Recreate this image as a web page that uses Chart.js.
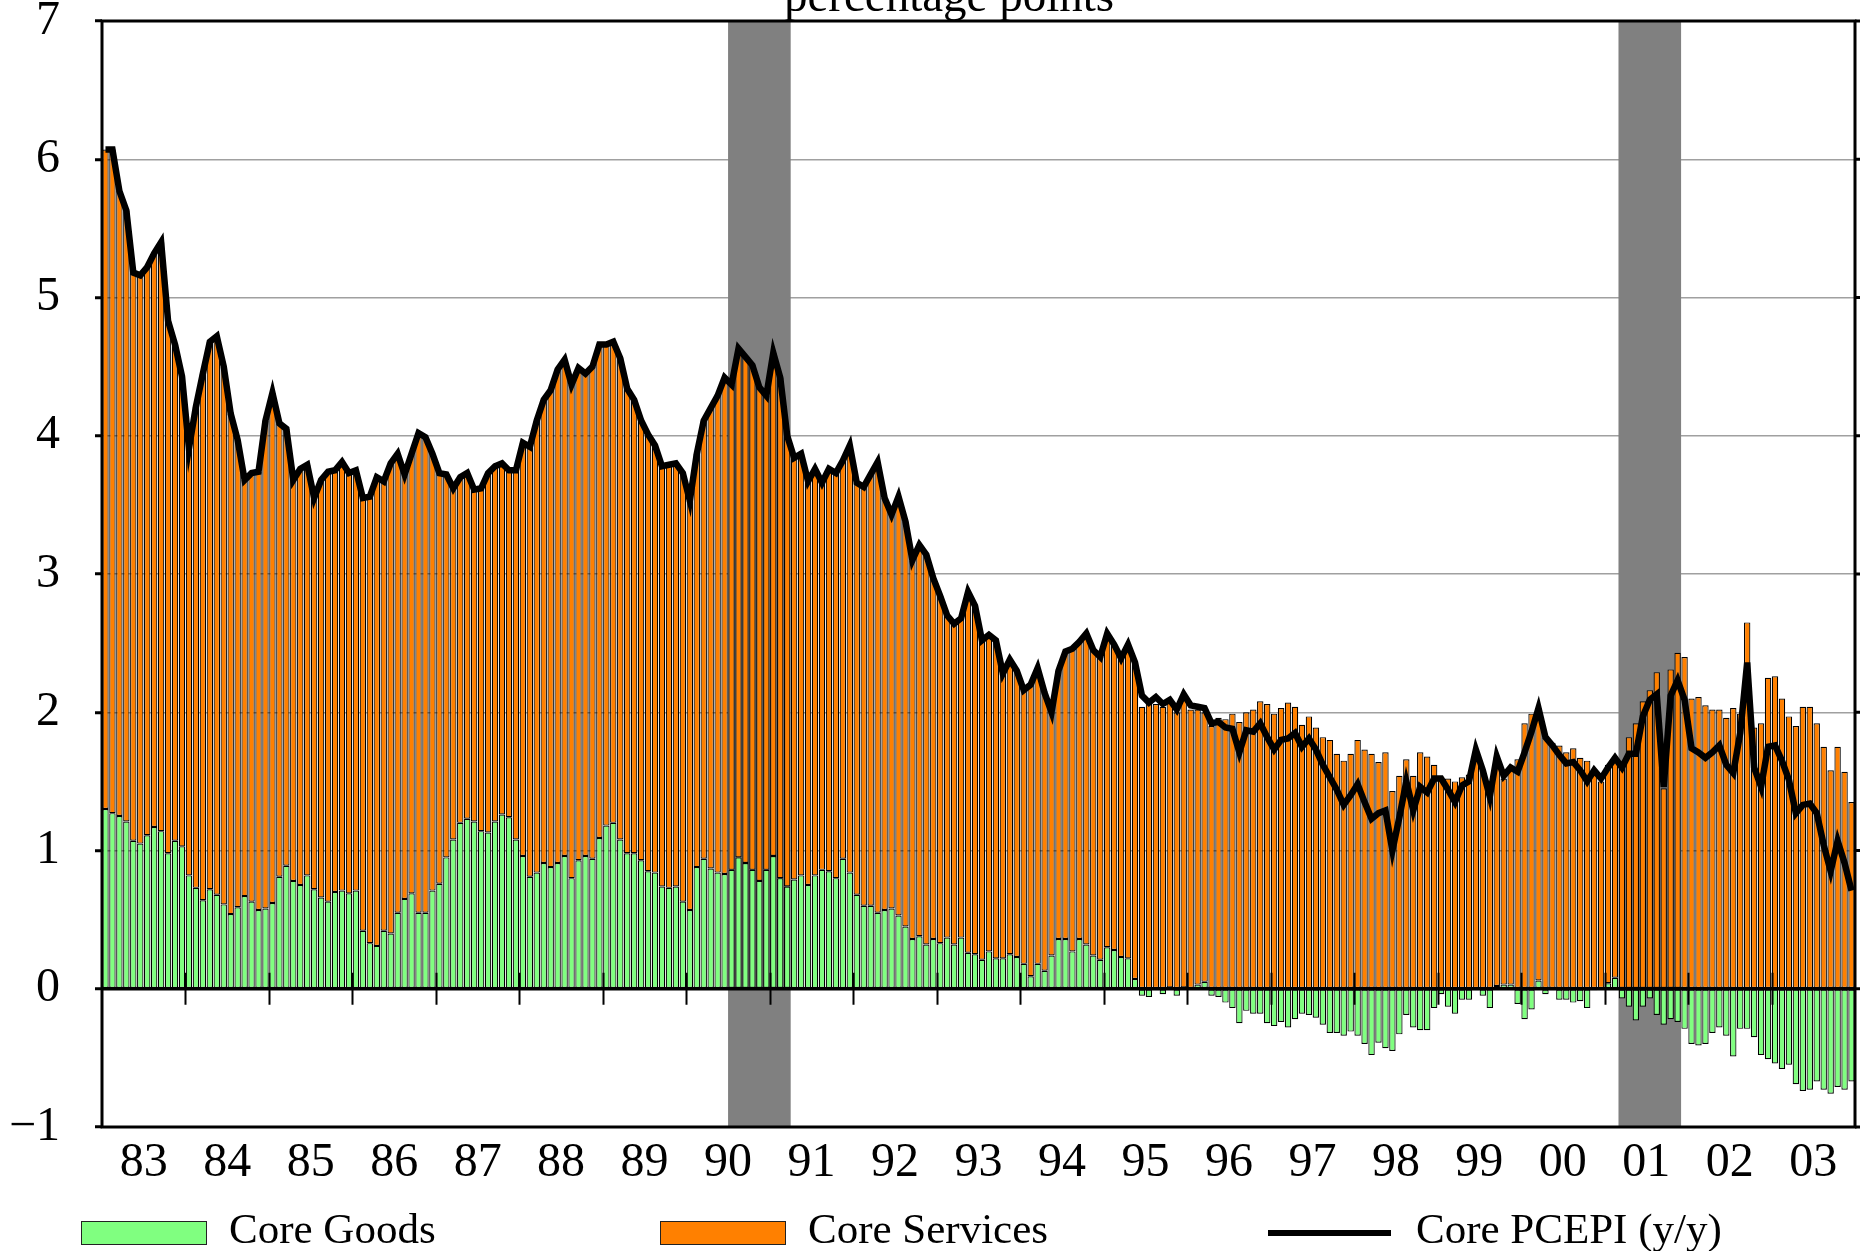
<!DOCTYPE html>
<html>
<head>
<meta charset="utf-8">
<script src="https://cdn.jsdelivr.net/npm/chart.js@4.4.1/dist/chart.umd.min.js"></script>
<style>
  html, body { margin: 0; padding: 0; background: #fff; }
  #wrap { position: relative; width: 1872px; height: 1251px; overflow: hidden;
          font-family: "Liberation Serif", "Times New Roman", serif; color: #000; }
  #chart { position: absolute; left: 0; top: 0; }
  .title { position: absolute; top: -28px; left: 0; width: 1898px; text-align: center;
           font-size: 47px; line-height: 1; white-space: nowrap; }
  .swatch { position: absolute; box-sizing: border-box; }
  .swatch.box { top: 1221px; width: 126px; height: 24px; border: 1.5px solid #222; }
  .swatch.line { top: 1230px; width: 123px; height: 6px; }
  .label { position: absolute; top: 1207px; font-size: 43px; line-height: 1; white-space: nowrap; }
</style>
</head>
<body>
<div id="wrap">
  <canvas id="chart" width="1872" height="1251"></canvas>
  <div class="title">percentage points</div>
  <div id="legend"></div>
</div>
<script>
// monthly, Jan 1983 .. Dec 2003
const firstYear = 1983;
const lastYear = 2003;
const yearLabels = ["83", "84", "85", "86", "87", "88", "89", "90", "91", "92", "93",
  "94", "95", "96", "97", "98", "99", "00", "01", "02", "03"];

const recessionStart = ["1990-07", "2001-03"];
const recessionEnd = ["1991-03", "2001-11"];

// contribution of core goods, percentage points
const coreGoods = [
  1.30, 1.27, 1.25, 1.21, 1.07, 1.05, 1.11, 1.17, 1.14, 0.98, 1.07, 1.03,
  0.82, 0.73, 0.64, 0.72, 0.68, 0.61, 0.54, 0.59, 0.67, 0.63, 0.57, 0.58,
  0.62, 0.81, 0.89, 0.78, 0.75, 0.82, 0.72, 0.66, 0.63, 0.70, 0.71, 0.69,
  0.71, 0.42, 0.33, 0.31, 0.42, 0.40, 0.55, 0.65, 0.69, 0.55, 0.55, 0.71,
  0.76, 0.95, 1.08, 1.20, 1.23, 1.21, 1.14, 1.13, 1.21, 1.26, 1.24, 1.08,
  0.96, 0.81, 0.84, 0.91, 0.88, 0.91, 0.96, 0.80, 0.93, 0.96, 0.94, 1.09,
  1.18, 1.20, 1.08, 0.98, 0.98, 0.93, 0.85, 0.84, 0.74, 0.73, 0.74, 0.63,
  0.57, 0.88, 0.94, 0.87, 0.84, 0.83, 0.86, 0.95, 0.91, 0.86, 0.78, 0.86,
  0.96, 0.80, 0.74, 0.79, 0.82, 0.75, 0.82, 0.86, 0.85, 0.80, 0.94, 0.84,
  0.68, 0.60, 0.60, 0.55, 0.57, 0.58, 0.53, 0.45, 0.36, 0.38, 0.32, 0.36,
  0.33, 0.37, 0.32, 0.37, 0.26, 0.25, 0.21, 0.27, 0.22, 0.22, 0.25, 0.23,
  0.18, 0.09, 0.18, 0.13, 0.24, 0.36, 0.36, 0.27, 0.36, 0.32, 0.24, 0.21,
  0.30, 0.28, 0.23, 0.22, 0.07, -0.05, -0.06, -0.01, -0.04, 0.01, -0.05, 0.01,
  0.00, 0.03, 0.05, -0.05, -0.06, -0.10, -0.14, -0.25, -0.16, -0.18, -0.18, -0.25,
  -0.27, -0.24, -0.28, -0.22, -0.18, -0.19, -0.21, -0.26, -0.32, -0.32, -0.34, -0.31,
  -0.34, -0.40, -0.48, -0.39, -0.43, -0.45, -0.33, -0.19, -0.28, -0.30, -0.30, -0.14,
  -0.04, -0.13, -0.18, -0.08, -0.08, -0.01, -0.05, -0.14, 0.02, 0.03, 0.03, -0.11,
  -0.22, -0.15, 0.06, -0.04, -0.01, -0.08, -0.08, -0.10, -0.09, -0.14, -0.01, 0.00,
  0.04, 0.08, -0.07, -0.13, -0.23, -0.13, -0.07, -0.19, -0.26, -0.22, -0.24, -0.29,
  -0.40, -0.41, -0.40, -0.32, -0.28, -0.34, -0.49, -0.29, -0.29, -0.35, -0.48, -0.51,
  -0.54, -0.58, -0.55, -0.69, -0.74, -0.73, -0.67, -0.73, -0.76, -0.71, -0.73, -0.67,
];

// contribution of core services, percentage points
const coreServices = [
  4.77, 4.80, 4.52, 4.42, 4.11, 4.11, 4.11, 4.15, 4.26, 3.85, 3.59, 3.40,
  3.09, 3.48, 3.81, 3.96, 4.04, 3.89, 3.62, 3.38, 3.01, 3.10, 3.17, 3.53,
  3.69, 3.28, 3.16, 2.90, 3.01, 2.97, 2.83, 3.02, 3.11, 3.05, 3.10, 3.04,
  3.04, 3.13, 3.23, 3.39, 3.25, 3.40, 3.32, 3.07, 3.18, 3.47, 3.44, 3.16,
  2.97, 2.77, 2.54, 2.50, 2.50, 2.40, 2.48, 2.60, 2.57, 2.54, 2.51, 2.67,
  2.99, 3.11, 3.27, 3.35, 3.45, 3.57, 3.59, 3.57, 3.56, 3.49, 3.56, 3.57,
  3.48, 3.48, 3.48, 3.36, 3.28, 3.18, 3.16, 3.09, 3.04, 3.06, 3.06, 3.10,
  2.96, 2.99, 3.17, 3.33, 3.45, 3.59, 3.51, 3.68, 3.66, 3.65, 3.57, 3.43,
  3.64, 3.62, 3.26, 3.05, 3.05, 2.92, 2.94, 2.80, 2.91, 2.93, 2.88, 3.09,
  2.98, 3.03, 3.12, 3.26, 2.98, 2.85, 3.03, 2.93, 2.74, 2.83, 2.82, 2.61,
  2.51, 2.33, 2.32, 2.31, 2.61, 2.52, 2.31, 2.29, 2.30, 2.06, 2.13, 2.07,
  1.98, 2.11, 2.14, 2.01, 1.76, 1.94, 2.08, 2.19, 2.15, 2.25, 2.21, 2.19,
  2.27, 2.21, 2.16, 2.27, 2.29, 2.04, 2.07, 2.06, 2.04, 2.06, 2.00, 2.11,
  2.02, 1.99, 1.95, 1.90, 1.96, 1.95, 1.99, 1.93, 2.00, 2.02, 2.08, 2.06,
  1.99, 2.03, 2.07, 2.04, 1.91, 1.97, 1.89, 1.82, 1.80, 1.70, 1.65, 1.70,
  1.80, 1.73, 1.70, 1.64, 1.71, 1.43, 1.54, 1.66, 1.54, 1.71, 1.68, 1.62,
  1.53, 1.52, 1.50, 1.53, 1.55, 1.72, 1.58, 1.50, 1.66, 1.49, 1.56, 1.66,
  1.92, 1.99, 1.97, 1.82, 1.78, 1.76, 1.71, 1.74, 1.67, 1.65, 1.59, 1.50,
  1.58, 1.60, 1.59, 1.82, 1.92, 2.08, 2.16, 2.29, 1.45, 2.31, 2.43, 2.40,
  2.10, 2.11, 2.05, 2.02, 2.02, 1.96, 2.03, 1.99, 2.65, 1.89, 1.92, 2.25,
  2.26, 2.10, 1.97, 1.90, 2.04, 2.04, 1.92, 1.75, 1.58, 1.75, 1.57, 1.35,
];

// core PCE price index, % y/y
const corePce = [
  6.07, 6.07, 5.77, 5.63, 5.18, 5.16, 5.22, 5.32, 5.40, 4.83, 4.66, 4.43,
  3.91, 4.21, 4.45, 4.68, 4.72, 4.50, 4.16, 3.97, 3.68, 3.73, 3.74, 4.11,
  4.31, 4.09, 4.05, 3.68, 3.76, 3.79, 3.55, 3.68, 3.74, 3.75, 3.81, 3.73,
  3.75, 3.55, 3.56, 3.70, 3.67, 3.80, 3.87, 3.72, 3.87, 4.02, 3.99, 3.87,
  3.73, 3.72, 3.62, 3.70, 3.73, 3.61, 3.62, 3.73, 3.78, 3.80, 3.75, 3.75,
  3.95, 3.92, 4.11, 4.26, 4.33, 4.48, 4.55, 4.37, 4.49, 4.45, 4.50, 4.66,
  4.66, 4.68, 4.56, 4.34, 4.26, 4.11, 4.01, 3.93, 3.78, 3.79, 3.80, 3.73,
  3.53, 3.87, 4.11, 4.20, 4.29, 4.42, 4.37, 4.63, 4.57, 4.51, 4.35, 4.29,
  4.60, 4.42, 4.00, 3.84, 3.87, 3.67, 3.76, 3.66, 3.76, 3.73, 3.82, 3.93,
  3.66, 3.63, 3.72, 3.81, 3.55, 3.43, 3.56, 3.38, 3.10, 3.21, 3.14, 2.97,
  2.84, 2.70, 2.64, 2.68, 2.87, 2.77, 2.52, 2.56, 2.52, 2.28, 2.38, 2.30,
  2.16, 2.20, 2.32, 2.14, 2.00, 2.30, 2.44, 2.46, 2.51, 2.57, 2.45, 2.40,
  2.57, 2.49, 2.39, 2.49, 2.36, 2.12, 2.07, 2.11, 2.06, 2.09, 2.02, 2.13,
  2.05, 2.04, 2.03, 1.92, 1.93, 1.89, 1.88, 1.71, 1.87, 1.86, 1.92, 1.82,
  1.73, 1.80, 1.81, 1.85, 1.75, 1.81, 1.73, 1.62, 1.53, 1.44, 1.33, 1.40,
  1.48, 1.35, 1.23, 1.27, 1.29, 1.00, 1.24, 1.50, 1.29, 1.46, 1.42, 1.52,
  1.52, 1.44, 1.35, 1.47, 1.50, 1.73, 1.58, 1.39, 1.68, 1.54, 1.60, 1.57,
  1.71, 1.86, 2.03, 1.82, 1.76, 1.69, 1.63, 1.64, 1.58, 1.50, 1.58, 1.52,
  1.60, 1.67, 1.60, 1.70, 1.70, 1.97, 2.09, 2.13, 1.46, 2.12, 2.23, 2.09,
  1.74, 1.71, 1.67, 1.71, 1.76, 1.62, 1.56, 1.85, 2.36, 1.60, 1.46, 1.75,
  1.76, 1.65, 1.51, 1.27, 1.33, 1.34, 1.27, 1.04, 0.85, 1.07, 0.91, 0.71,
];

const months = [];
for (let yr = firstYear; yr <= lastYear; yr++) {
  for (let m = 1; m <= 12; m++) months.push(yr + "-" + String(m).padStart(2, "0"));
}

const FONT = "'Liberation Serif', 'Times New Roman', serif";

// recession shading, zero line, year ticks and the frame
const framePlugin = {
  id: "frame",
  beforeDatasetsDraw(chart) {
    const { ctx, chartArea: a } = chart;
    const xs = chart.scales.xYears;
    ctx.save();
    ctx.fillStyle = "#808080";
    recessionStart.forEach((s, n) => {
      const x0 = xs.getPixelForValue(months.indexOf(s));
      const x1 = xs.getPixelForValue(months.indexOf(recessionEnd[n]) + 1);
      ctx.fillRect(x0, a.top, x1 - x0, a.bottom - a.top);
    });
    ctx.restore();
  },
  afterDatasetsDraw(chart) {
    const { ctx, chartArea: a } = chart;
    const xs = chart.scales.xYears;
    const y0 = chart.scales.y.getPixelForValue(0);
    ctx.save();
    ctx.strokeStyle = "#000";
    ctx.lineWidth = 3.5;
    ctx.beginPath();
    ctx.moveTo(a.left, y0);
    ctx.lineTo(a.right, y0);
    ctx.stroke();
    ctx.lineWidth = 2;
    ctx.beginPath();
    for (let j = 1; j < yearLabels.length; j++) {
      const px = Math.round(xs.getPixelForValue(12 * j)) + 0.5;
      ctx.moveTo(px, y0 - 16);
      ctx.lineTo(px, y0 + 16);
    }
    ctx.stroke();
    ctx.restore();
  },
  afterDraw(chart) {
    const { ctx, chartArea: a } = chart;
    const ys = chart.scales.y;
    ctx.save();
    ctx.strokeStyle = "#000";
    ctx.lineWidth = 3;
    ctx.strokeRect(a.left, a.top, a.right - a.left, a.bottom - a.top);
    ctx.beginPath();
    ys.ticks.forEach((t) => {
      const py = ys.getPixelForValue(t.value);
      ctx.moveTo(a.right, py);
      ctx.lineTo(a.right + 5, py);
    });
    ctx.stroke();
    ctx.restore();
  },
};

const chart = new Chart(document.getElementById("chart"), {
  type: "bar",
  data: {
    labels: months,
    datasets: [
      {
        label: "Core Goods",
        data: coreGoods,
        backgroundColor: "#80ff80",
        borderColor: "#000",
        borderWidth: 1.2,
        borderSkipped: false,
        categoryPercentage: 1,
        barPercentage: 0.92,
        stack: "bars",
        order: 1,
      },
      {
        label: "Core Services",
        data: coreServices,
        backgroundColor: "#ff8000",
        borderColor: "#000",
        borderWidth: 1.2,
        borderSkipped: false,
        categoryPercentage: 1,
        barPercentage: 0.92,
        stack: "bars",
        order: 1,
      },
      {
        type: "line",
        label: "Core PCEPI (y/y)",
        data: corePce,
        borderColor: "#000",
        backgroundColor: "#000",
        borderWidth: 6.5,
        pointRadius: 0,
        tension: 0,
        fill: false,
        stack: "pce",
        order: 0,
      },
    ],
  },
  options: {
    responsive: false,
    animation: false,
    devicePixelRatio: 1,
    layout: { padding: { top: 21, right: 17, bottom: 64, left: 0 } },
    plugins: {
      legend: { display: false },
      title: { display: false },
      tooltip: { enabled: false },
    },
    scales: {
      x: {
        type: "category",
        display: false,
        stacked: true,
        offset: true,
      },
      xYears: {
        type: "linear",
        position: "bottom",
        offset: false,
        min: 0,
        max: months.length,
        grid: { display: false, drawTicks: false, offset: false },
        border: { display: false },
        afterFit(scale) {
          scale.height = 60;
          scale.paddingLeft = 0;
          scale.paddingRight = 0;
        },
        afterBuildTicks(scale) {
          scale.ticks = yearLabels.map((_, j) => ({ value: 6 + 12 * j }));
        },
        ticks: {
          autoSkip: false,
          maxRotation: 0,
          padding: 8,
          color: "#000",
          font: { family: FONT, size: 48 },
          callback: (v) => yearLabels[(v - 6) / 12],
        },
      },
      y: {
        stacked: true,
        min: -1,
        max: 7,
        afterFit(scale) {
          scale.width = 102;
          scale.paddingTop = 0;
          scale.paddingBottom = 0;
        },
        border: { display: false },
        grid: {
          color: (ctx) => (ctx.tick && ctx.tick.value > 0 && ctx.tick.value < 7 ? "#a0a0a0" : "rgba(0,0,0,0)"),
          lineWidth: 1.5,
          tickColor: "#000",
          tickWidth: 3,
          tickLength: 7,
        },
        ticks: {
          stepSize: 1,
          padding: 35,
          color: "#000",
          font: { family: FONT, size: 48 },
          callback: (v) => (v < 0 ? "\u2212" + -v : String(v)),
        },
      },
    },
  },
  plugins: [framePlugin],
});

// legend below the plot
const legendX = [81, 660, 1268];
const legendEl = document.getElementById("legend");
chart.data.datasets.forEach((ds, n) => {
  const sw = document.createElement("span");
  sw.className = ds.type === "line" ? "swatch line" : "swatch box";
  sw.style.left = legendX[n] + "px";
  sw.style.background = ds.type === "line" ? ds.borderColor : ds.backgroundColor;
  const tx = document.createElement("span");
  tx.className = "label";
  tx.style.left = legendX[n] + 148 + "px";
  tx.textContent = ds.label;
  legendEl.append(sw, tx);
});
</script>
</body>
</html>
